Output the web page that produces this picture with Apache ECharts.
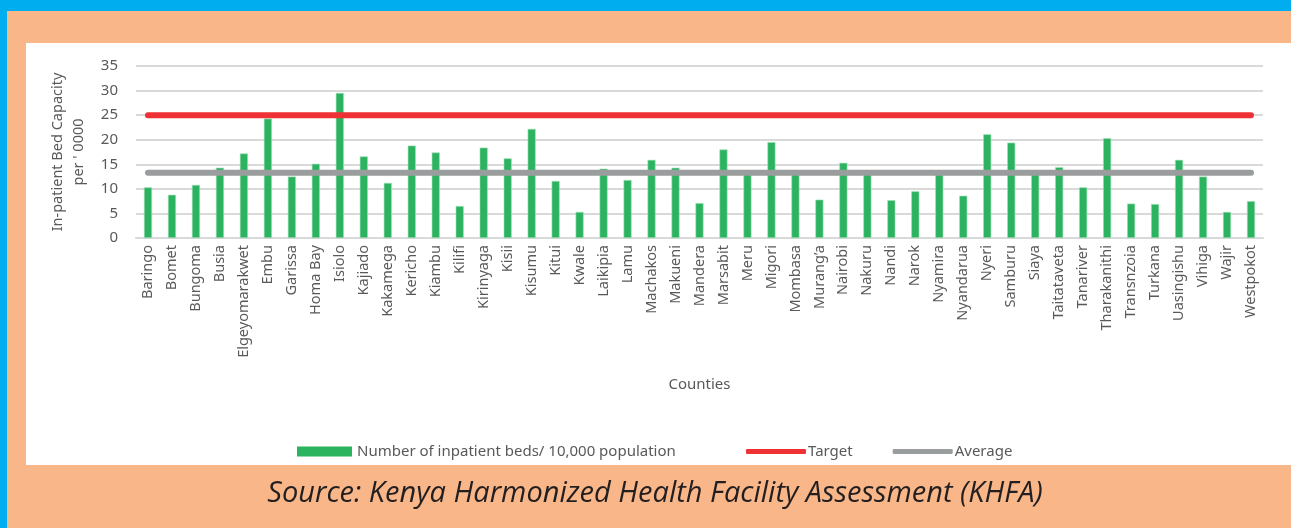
<!DOCTYPE html>
<html>
<head>
<meta charset="UTF-8">
<title>Inpatient bed capacity by county</title>
<script type="text/javascript" src="https://cdn.jsdelivr.net/npm/echarts@6/dist/echarts.min.js"></script>
<style>
  body{margin:0;padding:0;background:#fff}
</style>
</head>
<body>

<div id="main" style="width:1291px;height:528px"></div>
<script type="text/javascript">
	// counties on the x axis
	var counties = ['Baringo','Bomet','Bungoma','Busia','Elgeyomarakwet','Embu','Garissa','Homa Bay','Isiolo','Kajiado',
		'Kakamega','Kericho','Kiambu','Kilifi','Kirinyaga','Kisii','Kisumu','Kitui','Kwale','Laikipia',
		'Lamu','Machakos','Makueni','Mandera','Marsabit','Meru','Migori','Mombasa','Murang\u2019a','Nairobi',
		'Nakuru','Nandi','Narok','Nyamira','Nyandarua','Nyeri','Samburu','Siaya','Taitataveta','Tanariver',
		'Tharakanithi','Transnzoia','Turkana','Uasingishu','Vihiga','Wajir','Westpokot'];

	// beds per 10,000 population
	var beds = [10.3, 8.8, 10.8, 14.3, 17.2, 24.3, 12.5, 15.1, 29.5, 16.6,
		11.2, 18.8, 17.4, 6.5, 18.4, 16.2, 22.2, 11.6, 5.3, 14.1,
		11.8, 15.9, 14.3, 7.1, 18.0, 13.0, 19.5, 13.0, 7.8, 15.3,
		13.0, 7.7, 9.5, 12.9, 8.6, 21.1, 19.4, 13.0, 14.4, 10.3,
		20.3, 7.0, 6.9, 15.9, 12.5, 5.3, 7.5];

	var targetValue = 25;
	var averageValue = 13.3;
	var yTicks = [0, 5, 10, 15, 20, 25, 30, 35];

	var target = counties.map(function() { return targetValue; });
	var average = counties.map(function() { return averageValue; });

	var myEcharts = echarts.init(document.getElementById('main'));

	var textColor = '#595959';
	var font = '"Noto Sans", sans-serif';
	var barName = 'Number of inpatient beds/ 10,000 population';

	option = {
		backgroundColor: '#F9B789',
		animation: false,
		textStyle: { fontFamily: font },
		graphic: [
			// frame: blue strips, white panel
			{ type: 'rect', left: 0, top: 0, z: -10, shape: { width: 1291, height: 11 }, style: { fill: '#00AEEF' } },
			{ type: 'rect', left: 0, top: 0, z: -10, shape: { width: 7, height: 528 }, style: { fill: '#00AEEF' } },
			{ type: 'rect', left: 26, top: 43, z: -10, shape: { width: 1265, height: 422 }, style: { fill: '#ffffff' } },
			{
				type: 'text', x: 655, y: 494,
				style: {
					text: 'Source: Kenya Harmonized Health Facility Assessment (KHFA)',
					font: 'italic 29px "Open Sans", sans-serif',
					fill: '#231F20',
					textAlign: 'center',
					textVerticalAlign: 'middle'
				}
			}
		],
		grid: { left: 136, right: 28, top: 66, height: 172 },
		legend: [{
			left: 292, top: 439,
			itemWidth: 55, itemHeight: 10, itemGap: 40,
			itemStyle: { borderWidth: 0 },
			textStyle: { color: textColor, fontSize: 15, fontFamily: font },
			data: [{ name: barName, icon: 'rect' }]
		}, {
			left: 741, top: 439,
			itemWidth: 60, itemHeight: 5, itemGap: 40,
			icon: 'roundRect',
			textStyle: { color: textColor, fontSize: 15, fontFamily: font, padding: [0, 0, 0, -3] },
			data: ['Target', 'Average']
		}],
		xAxis: {
			type: 'category',
			data: counties,
			name: 'Counties',
			nameLocation: 'middle',
			nameGap: 139,
			nameTextStyle: { color: textColor, fontSize: 15 },
			axisLine: { lineStyle: { color: '#d9d9d9', width: 2 } },
			axisTick: { show: false },
			axisLabel: { rotate: 90, interval: 0, color: textColor, fontSize: 14.5, margin: 7 }
		},
		yAxis: {
			type: 'value',
			min: yTicks[0], max: yTicks[yTicks.length - 1], interval: 5,
			name: 'In-patient Bed Capacity\nper \' 0000',
			nameLocation: 'middle',
			nameGap: 47,
			nameTextStyle: { color: textColor, fontSize: 14.5, lineHeight: 21 },
			axisLabel: { color: textColor, fontSize: 15, margin: 18 },
			splitLine: { lineStyle: { color: '#d9d9d9', width: 2 } }
		},
		series: [{
			name: barName,
			type: 'bar',
			barWidth: 8,
			itemStyle: { color: '#2BB35F', borderColor: '#9FDDB5', borderWidth: 0.6 },
			data: beds
		}, {
			name: 'Target',
			type: 'line',
			symbol: 'none',
			itemStyle: { color: '#EE3134' },
			lineStyle: { color: '#EE3134', width: 6, cap: 'round' },
			data: target
		}, {
			name: 'Average',
			type: 'line',
			symbol: 'none',
			itemStyle: { color: '#9A9D9D' },
			lineStyle: { color: '#9A9D9D', width: 6, cap: 'round' },
			data: average
		}]
	};
	myEcharts.setOption(option);
</script>
</body>
</html>
